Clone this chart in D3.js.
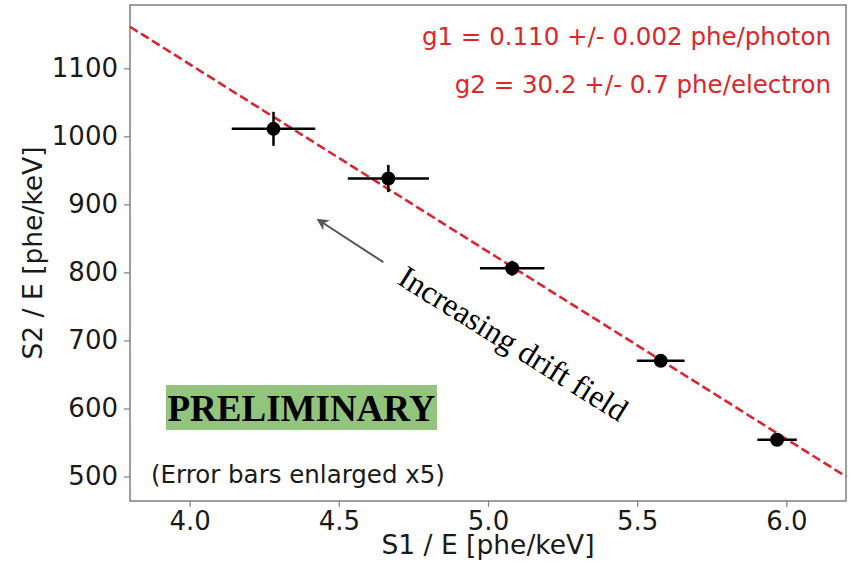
<!DOCTYPE html>
<html>
<head>
  <meta charset="utf-8">
  <title>S2/E vs S1/E</title>
  <script src="https://d3js.org/d3.v7.min.js"></script>
  <style>
    body, html { margin: 0; padding: 0; background: #fff; }
    svg { display: block; }
    .tick text { font-family: "DejaVu Sans", sans-serif; font-size: 26px; fill: #1a1a1a; }
    .tick line, .domain { stroke: #7f7f7f; }
  </style>
</head>
<body>
  <svg id="chart" width="852" height="569"></svg>
  <script>
    // measured points (S1/E, S2/E) with the enlarged error bars
    var s1 = [4.281, 4.666, 5.081, 5.579, 5.969];
    var s2 = [1011, 938, 806, 670, 554];
    var s1Err = [0.140, 0.136, 0.108, 0.080, 0.066];
    var s2Err = [25, 20, 11, 6, 5];

    // fit line endpoints
    var fitX = [3.8, 6.2];
    var fitY = [1161, 500];

    var xTicks = [4.0, 4.5, 5.0, 5.5, 6.0];
    var yTicks = [500, 600, 700, 800, 900, 1000, 1100];

    var margin = {left: 130, top: 5, right: 6, bottom: 68};
    var width = 852 - margin.left - margin.right;
    var height = 569 - margin.top - margin.bottom;

    var svg = d3.select("#chart");
    var g = svg.append("g").attr("transform", "translate(" + margin.left + "," + margin.top + ")");

    var x = d3.scaleLinear().domain([3.8, 6.2]).range([0, width]);
    var y = d3.scaleLinear().domain([464, 1193]).range([height, 0]);

    // frame
    g.append("rect")
      .attr("width", width).attr("height", height)
      .attr("fill", "none").attr("stroke", "#7f7f7f").attr("stroke-width", 1.5);

    var xAxis = g.append("g")
      .attr("transform", "translate(0," + height + ")")
      .call(d3.axisBottom(x).tickValues(xTicks).tickFormat(d3.format(".1f")).tickSize(6).tickPadding(5));
    var yAxis = g.append("g")
      .call(d3.axisLeft(y).tickValues(yTicks).tickFormat(d3.format("d")).tickSize(6).tickPadding(6));
    [xAxis, yAxis].forEach(function(a) {
      a.select(".domain").remove();
      a.selectAll(".tick line").attr("stroke-width", 1.2);
    });

    // fit line
    g.append("line")
      .attr("x1", x(fitX[0])).attr("y1", y(fitY[0]))
      .attr("x2", x(fitX[1])).attr("y2", y(fitY[1]))
      .attr("stroke", "#dc2530").attr("stroke-width", 2.6)
      .attr("stroke-dasharray", "9,4");

    // error bars and points
    var pts = s1.map(function(v, i) {
      return {x: v, y: s2[i], ex: s1Err[i], ey: s2Err[i]};
    });
    var pg = g.selectAll(".pt").data(pts).enter().append("g").attr("class", "pt");
    pg.append("line")
      .attr("x1", d => x(d.x - d.ex)).attr("x2", d => x(d.x + d.ex))
      .attr("y1", d => y(d.y)).attr("y2", d => y(d.y))
      .attr("stroke", "#000").attr("stroke-width", 2.5);
    pg.append("line")
      .attr("x1", d => x(d.x)).attr("x2", d => x(d.x))
      .attr("y1", d => y(d.y - d.ey)).attr("y2", d => y(d.y + d.ey))
      .attr("stroke", "#000").attr("stroke-width", 2.5);
    pg.append("circle")
      .attr("cx", d => x(d.x)).attr("cy", d => y(d.y))
      .attr("r", 7).attr("fill", "#000");

    // fit results
    g.append("text")
      .attr("x", width - 15).attr("y", 40)
      .attr("text-anchor", "end")
      .style("font-family", "DejaVu Sans, sans-serif").style("font-size", "24.5px")
      .attr("fill", "#e0242b")
      .text("g1 = 0.110 +/- 0.002 phe/photon");
    g.append("text")
      .attr("x", width - 15).attr("y", 88)
      .attr("text-anchor", "end")
      .style("font-family", "DejaVu Sans, sans-serif").style("font-size", "24.5px")
      .attr("fill", "#e0242b")
      .text("g2 = 30.2 +/- 0.7 phe/electron");

    // arrow
    svg.append("defs").append("marker")
      .attr("id", "head").attr("viewBox", "0 0 10 10")
      .attr("refX", 8).attr("refY", 5)
      .attr("markerWidth", 6).attr("markerHeight", 6)
      .attr("orient", "auto")
      .append("path").attr("d", "M0,0 L10,5 L0,10 L3,5 Z").attr("fill", "#555");
    g.append("line")
      .attr("x1", x(4.649)).attr("y1", y(815))
      .attr("x2", x(4.432)).attr("y2", y(877))
      .attr("stroke", "#555").attr("stroke-width", 2)
      .attr("marker-end", "url(#head)");

    svg.append("text")
      .attr("transform", "translate(396,283) rotate(32)")
      .style("font-family", "Liberation Serif, serif").style("font-size", "32px")
      .attr("fill", "#000")
      .text("Increasing drift field");

    // PRELIMINARY badge
    svg.append("rect")
      .attr("x", 166).attr("y", 385).attr("width", 271).attr("height", 45)
      .attr("fill", "#93c47d");
    svg.append("text")
      .attr("x", 301.5).attr("y", 421)
      .attr("text-anchor", "middle")
      .style("font-family", "Liberation Serif, serif").style("font-size", "37px")
      .style("font-weight", "bold").attr("fill", "#000")
      .text("PRELIMINARY");

    svg.append("text")
      .attr("x", 151).attr("y", 483)
      .style("font-family", "DejaVu Sans, sans-serif").style("font-size", "24.5px")
      .attr("fill", "#1a1a1a")
      .text("(Error bars enlarged x5)");

    // axis titles
    svg.append("text")
      .attr("x", margin.left + width / 2).attr("y", 554)
      .attr("text-anchor", "middle")
      .style("font-family", "DejaVu Sans, sans-serif").style("font-size", "26.5px")
      .attr("fill", "#1a1a1a")
      .text("S1 / E [phe/keV]");
    svg.append("text")
      .attr("transform", "translate(42," + (margin.top + height / 2) + ") rotate(-90)")
      .attr("text-anchor", "middle")
      .style("font-family", "DejaVu Sans, sans-serif").style("font-size", "26.5px")
      .attr("fill", "#1a1a1a")
      .text("S2 / E [phe/keV]");
  </script>
</body>
</html>
